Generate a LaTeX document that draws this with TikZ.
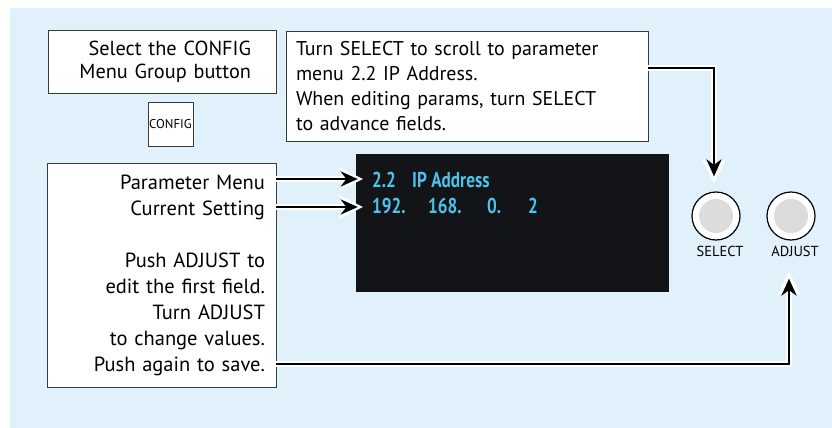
\documentclass[tikz,border=0pt]{standalone}
\usepackage{fontspec}
\setmainfont{PT Sans}
\newfontfamily\screenfont[FakeStretch=0.8]{PT Sans}
\usetikzlibrary{arrows.meta,positioning,calc}
\definecolor{panelblue}{HTML}{E0F1FB}
\definecolor{screenblack}{HTML}{131418}
\definecolor{screencyan}{HTML}{4DC3EB}
\definecolor{knobgrey}{HTML}{DCDCDC}
\definecolor{boxline}{HTML}{3A3A3A}
\tikzset{
	infobox/.style={draw=boxline, fill=white, line width=1pt, inner ysep=0pt},
	knob/.style={circle, draw=black, fill=white, line width=1.2pt, minimum size=48pt, inner sep=0pt},
	knoblabel/.style={font=\fontsize{14.5}{16}\selectfont, inner sep=0pt},
	lcd/.style={font=\screenfont\bfseries\fontsize{21.5}{24}\selectfont, text=screencyan, anchor=base west, inner sep=0pt},
	halo/.style={draw=white, line width=6pt, -{Stealth[length=24pt,width=24pt]}},
	pointer/.style={draw=black, line width=2.8pt, -{Stealth[length=17pt,width=15pt]}}
}

\begin{document}
\begin{tikzpicture}[x=1pt, y=-1pt]
		%%%%% START %%%%%
		\useasboundingbox (0, 0) rectangle (832, 428);
		\fill[panelblue] (10, 8) rectangle (832, 428);
		
		\node[infobox, text width=178pt, inner xsep=25pt, minimum height=62pt, align=right, font=\fontsize{20.3}{22.5}\selectfont] (cfgnote) at (162, 62) {Select the CONFIG\\Menu Group button};
		\node[draw=boxline, fill=white, line width=1pt, minimum width=45pt, minimum height=44pt, inner sep=0pt, font=\fontsize{12.8}{14}\selectfont] (cfgbtn) at (170.5, 124) {CONFIG};
		
		\node[infobox, text width=342pt, inner xsep=10pt, minimum height=109pt, align=left, font=\fontsize{19.9}{25}\selectfont] (scrollnote) at (467, 86.5) {Turn SELECT to scroll to parameter\\menu 2.2 IP Address.\\When editing params, turn SELECT\\to advance fields.};
		
		\node[infobox, text width=207pt, inner xsep=11pt, minimum height=224pt, align=right, font=\fontsize{20.5}{26}\selectfont] (params) at (161.5, 275) {Parameter Menu\\Current Setting\\[26pt]Push ADJUST to\\edit the first field.\\Turn ADJUST\\to change values.\\Push again to save.};
		
		% display
		\node[fill=screenblack, minimum width=313pt, minimum height=138pt, inner sep=0pt] (screen) at (512.5, 223) {};
		\node[lcd] (menunum) at (372, 187) {2.2};
		\node[lcd] (menuname) at (412, 187) {IP Address};
		\node[lcd] (ipa) at (372, 213) {192.};
		\node[lcd] (ipb) at (428, 213) {168.};
		\node[lcd] (ipc) at (487, 213) {0.};
		\node[lcd] (ipd) at (528, 213) {2};
		
		% knobs
		\node[knob] (sel) at (716, 216) {};
		\fill[knobgrey] (sel) circle (17);
		\node[knob] (adj) at (791, 216) {};
		\fill[knobgrey] (adj) circle (17);
		\node[knoblabel, below=5pt of sel, xshift=4pt] (sellbl) {SELECT};
		\node[knoblabel, below=5pt of adj, xshift=4pt] (adjlbl) {ADJUST};
		
		% pointers
		\coordinate (menuout) at (276, 179);
		\coordinate (setout) at (276, 207);
		\coordinate (scrollout) at (648, 68);
		\coordinate (saveout) at (276, 364);
		
		\draw[halo, shorten >=-7pt] (menuout) -- (menuout -| screen.west);
		\draw[halo, shorten >=-7pt] (setout) -- (setout -| screen.west);
		\draw[pointer, shorten >=-2pt] (menuout) -- (menuout -| screen.west);
		\draw[pointer, shorten >=-2pt] (setout) -- (setout -| screen.west);
		
		\draw[halo, shorten >=8pt] (scrollout) -| ([xshift=-2pt]sel.north);
		\draw[pointer, shorten >=15pt] (scrollout) -| ([xshift=-2pt]sel.north);
		
		\draw[halo, shorten >=31pt] (saveout) -| ([xshift=-2pt]adj.south);
		\draw[pointer, shorten >=38pt] (saveout) -| ([xshift=-2pt]adj.south);
		%%%%% END %%%%%
\end{tikzpicture}
\end{document}
